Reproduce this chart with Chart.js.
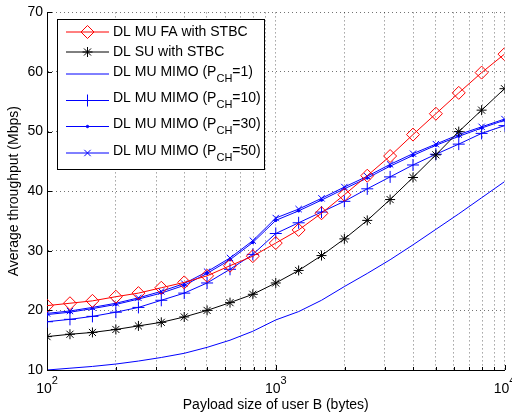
<!DOCTYPE html>
<html>
<head>
<meta charset="utf-8">
<script src="https://cdn.jsdelivr.net/npm/chart.js@4.4.1/dist/chart.umd.min.js"></script>
<style>
  html, body { margin: 0; padding: 0; background: #fff; }
  canvas { display: block; }
</style>
</head>
<body>
<canvas id="thrChart" width="512" height="418"></canvas>
<script>
// Payload size of user B (bytes), 10 points per decade
const payloadSizes = [100, 126, 158, 200, 251, 316, 398, 501, 631, 794, 1000,
  1259, 1585, 1995, 2512, 3162, 3981, 5012, 6310, 7943, 10000];

// Average throughput (Mbps)
const muFaStbc = [20.8, 21.2, 21.6, 22.3, 22.9, 23.8, 24.7, 25.8, 27.5, 29.1, 31.3,
  33.5, 36.3, 39.4, 42.6, 45.9, 49.5, 53.0, 56.5, 59.9, 63.0];
const suStbc = [15.6, 16.0, 16.3, 16.8, 17.4, 18.0, 18.9, 20.0, 21.3, 22.7, 24.6,
  26.7, 29.2, 32.0, 35.1, 38.6, 42.3, 46.1, 50.0, 53.6, 57.2];
const mimoP1 = [10.0, 10.3, 10.6, 11.0, 11.5, 12.1, 12.8, 13.8, 15.0, 16.5, 18.4,
  19.8, 21.7, 24.0, 26.2, 28.5, 31.0, 33.6, 36.2, 38.9, 41.6];
const mimoP10 = [18.1, 18.5, 19.0, 19.7, 20.5, 21.7, 22.9, 24.6, 26.9, 29.4, 32.9,
  34.7, 36.5, 38.3, 40.4, 42.4, 44.4, 46.2, 47.9, 49.7, 51.0];
const mimoP30 = [19.3, 19.7, 20.3, 21.0, 21.9, 22.9, 24.2, 26.2, 28.5, 31.4, 35.1,
  36.7, 38.5, 40.4, 42.2, 44.2, 46.0, 47.7, 49.2, 50.6, 51.9];
const mimoP50 = [19.5, 19.9, 20.5, 21.2, 22.1, 23.2, 24.5, 26.5, 28.8, 31.7, 35.5,
  37.0, 38.8, 40.7, 42.5, 44.5, 46.3, 47.9, 49.5, 50.8, 52.1];

// Legend text, {..} marks a subscript
const seriesLabels = ['DL MU FA with STBC', 'DL SU with STBC', 'DL MU MIMO (P{CH}=1)',
  'DL MU MIMO (P{CH}=10)', 'DL MU MIMO (P{CH}=30)', 'DL MU MIMO (P{CH}=50)'];

// Axis ticks
const xGridTicks = [100, 200, 300, 400, 500, 600, 700, 800, 900, 1000,
  2000, 3000, 4000, 5000, 6000, 7000, 8000, 9000, 10000];
const xDecades = [100, 1000, 10000];
const xDecadeLabels = ['2', '3', '4'];
const yTicks = [10, 20, 30, 40, 50, 60, 70];

const FONT = "'Liberation Sans', Arial, Helvetica, sans-serif";

function toPoints(ys) {
  return ys.map((y, i) => ({ x: payloadSizes[i], y: y }));
}

function series(label, ys, color, style, radius, fill) {
  return {
    label: label,
    data: toPoints(ys),
    borderColor: color,
    backgroundColor: fill || 'rgba(0,0,0,0)',
    borderWidth: 1,
    tension: 0,
    pointStyle: style,
    pointRadius: radius,
    pointBorderColor: color,
    pointBackgroundColor: fill || 'rgba(0,0,0,0)',
    pointBorderWidth: 1
  };
}

const datasets = [
  series(seriesLabels[0], muFaStbc, '#ff0000', 'rectRot', 6.5),
  series(seriesLabels[1], suStbc, '#000000', 'star', 5),
  series(seriesLabels[2], mimoP1, '#0000ff', false, 0),
  series(seriesLabels[3], mimoP10, '#0000ff', 'cross', 6),
  series(seriesLabels[4], mimoP30, '#0000ff', 'circle', 1.2, '#0000ff'),
  series(seriesLabels[5], mimoP50, '#0000ff', 'crossRot', 4.5)
];

// draw text containing {sub} parts, starting at x, middle at y
function drawRichText(ctx, str, x, y, size, subSize) {
  const parts = str.split(/(\{[^}]*\})/);
  ctx.textBaseline = 'middle';
  ctx.textAlign = 'left';
  parts.forEach(p => {
    if (!p) return;
    if (p[0] === '{') {
      const t = p.slice(1, -1);
      ctx.font = subSize + 'px ' + FONT;
      ctx.fillText(t, x, y + 7);
      x += ctx.measureText(t).width;
    } else {
      ctx.font = size + 'px ' + FONT;
      ctx.fillText(p, x, y);
      x += ctx.measureText(p).width;
    }
  });
}

// inward ticks, decade labels with exponents, and the legend box
const decorPlugin = {
  id: 'decor',
  afterDraw(chart) {
    const { ctx, chartArea: a, scales: { x, y } } = chart;
    ctx.save();

    ctx.strokeStyle = '#000';
    ctx.lineWidth = 1;
    ctx.beginPath();
    xGridTicks.forEach(v => {
      const px = Math.round(x.getPixelForValue(v)) + 0.5;
      const len = xDecades.includes(v) ? 5 : 3;
      ctx.moveTo(px, a.bottom);
      ctx.lineTo(px, a.bottom - len);
    });
    yTicks.forEach(v => {
      const py = Math.round(y.getPixelForValue(v)) + 0.5;
      ctx.moveTo(a.left, py);
      ctx.lineTo(a.left + 5, py);
    });
    ctx.stroke();

    // 10^n labels
    ctx.fillStyle = '#000';
    ctx.textBaseline = 'middle';
    ctx.textAlign = 'left';
    xDecades.forEach((v, i) => {
      const px = x.getPixelForValue(v);
      ctx.font = '14px ' + FONT;
      const wBase = ctx.measureText('10').width;
      ctx.font = '11px ' + FONT;
      const wExp = ctx.measureText(xDecadeLabels[i]).width;
      const start = px - (wBase + wExp) / 2;
      ctx.font = '14px ' + FONT;
      ctx.fillText('10', start, 389);
      ctx.font = '11px ' + FONT;
      ctx.fillText(xDecadeLabels[i], start + wBase, 381);
    });

    // legend
    const box = { l: 57.5, t: 19.5, r: 264.5, b: 169.5 };
    ctx.fillStyle = '#fff';
    ctx.fillRect(box.l, box.t, box.r - box.l, box.b - box.t);
    ctx.strokeStyle = '#000';
    ctx.strokeRect(box.l, box.t, box.r - box.l, box.b - box.t);

    const lineY = [32, 52, 74, 100.5, 126.5, 153];
    const textY = [32, 52, 72, 98, 124, 151];
    chart.data.datasets.forEach((ds, i) => {
      ctx.strokeStyle = ds.borderColor;
      ctx.lineWidth = 1;
      ctx.beginPath();
      ctx.moveTo(66, lineY[i]);
      ctx.lineTo(109, lineY[i]);
      ctx.stroke();
      if (ds.pointStyle) {
        ctx.fillStyle = ds.pointBackgroundColor;
        Chart.helpers.drawPoint(ctx, {
          pointStyle: ds.pointStyle,
          radius: ds.pointRadius,
          borderWidth: 1,
          rotation: 0
        }, 87.5, lineY[i]);
      }
      ctx.fillStyle = '#000';
      drawRichText(ctx, ds.label, 113, textY[i], 14, 11);
    });

    ctx.restore();
  }
};

new Chart(document.getElementById('thrChart'), {
  type: 'line',
  data: { datasets: datasets },
  options: {
    responsive: false,
    animation: false,
    events: [],
    layout: { padding: { top: 12, right: 7, left: 0, bottom: 0 } },
    plugins: {
      legend: { display: false },
      tooltip: { enabled: false }
    },
    scales: {
      x: {
        type: 'logarithmic',
        min: 100,
        max: 10000,
        afterBuildTicks: s => { s.ticks = xGridTicks.map(v => ({ value: v })); },
        afterFit: s => { s.height = 48; },
        ticks: { display: false },
        grid: { color: 'rgba(0,0,0,0.55)', drawTicks: false, lineWidth: 1 },
        border: { display: true, color: '#000', width: 1, dash: [1, 3] },
        title: {
          display: true,
          text: 'Payload size of user B (bytes)',
          color: '#000',
          font: { family: FONT, size: 14 },
          padding: { top: 0, bottom: 4 }
        }
      },
      y: {
        min: 10,
        max: 70,
        afterBuildTicks: s => { s.ticks = yTicks.map(v => ({ value: v })); },
        afterFit: s => { s.width = 47; },
        ticks: {
          color: '#000',
          font: { family: FONT, size: 14 },
          padding: 4
        },
        grid: { color: 'rgba(0,0,0,0.55)', drawTicks: false, lineWidth: 1 },
        border: { display: true, color: '#000', width: 1, dash: [1, 3] },
        title: {
          display: true,
          text: 'Average throughput (Mbps)',
          color: '#000',
          font: { family: FONT, size: 14 },
          padding: { top: 6, bottom: 0 }
        }
      }
    }
  },
  plugins: [decorPlugin]
});
</script>
</body>
</html>
